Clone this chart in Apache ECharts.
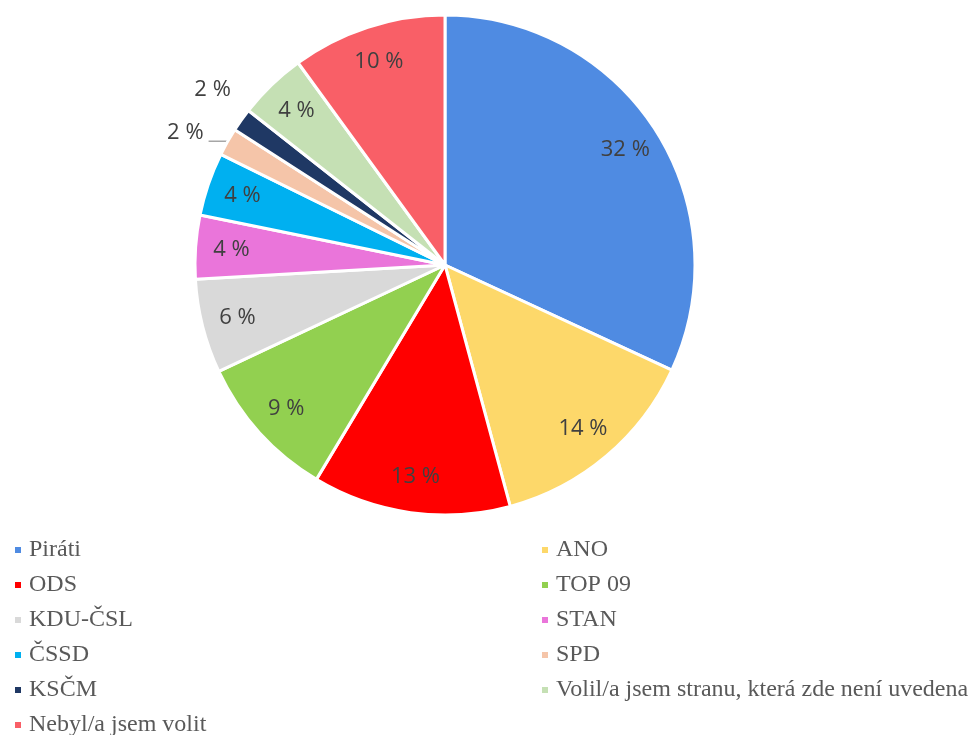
<!DOCTYPE html>
<html><head><meta charset="utf-8">
<script src="https://cdn.jsdelivr.net/npm/echarts@6/dist/echarts.min.js"></script>
<style>html,body{margin:0;padding:0;background:#fff}#c{width:971px;height:735px}</style>
</head><body><div id="c"></div>
<script>
const categories = ['Piráti','ANO','ODS','TOP 09','KDU-ČSL','STAN','ČSSD','SPD','KSČM','Volil/a jsem stranu, která zde není uvedena','Nebyl/a jsem volit'];
const values = [31.9, 13.9, 12.8, 9.4, 6.1, 4.1, 4.1, 1.8, 1.5, 4.4, 10.0];
const colors = ['#4F8BE2','#FDD86A','#FF0000','#92D050','#D9D9D9','#EA75DA','#00B0F0','#F5C5A9','#1F3864','#C5E0B4','#F95F67'];
const leftLegend = ['Piráti','ODS','KDU-ČSL','ČSSD','KSČM','Nebyl/a jsem volit'];
const rightLegend = ['ANO','TOP 09','STAN','SPD','Volil/a jsem stranu, která zde není uvedena'];
const outsideLabels = ['SPD','KSČM'];

const chart = echarts.init(document.getElementById('c'));
const mainData = categories.map((n,i)=>({name:n, value:values[i], itemStyle:{color:colors[i]}}));
const labelData = categories.map((n,i)=>{
  const d = {name:n, value:values[i]};
  if (outsideLabels.includes(n)) {
    d.label = {position:'outside'};
    d.labelLine = n==='SPD' ? {show:true, length:1, length2:18, lineStyle:{color:'#A6A6A6', width:1.5}} : {show:false, length:24, length2:10};
  }
  return d;
});
const legendCommon = {
  orient:'vertical', icon:'rect', itemWidth:8, itemHeight:8, itemGap:11, height:300,
  textStyle:{fontFamily:'Liberation Serif', fontSize:24, color:'#595959', lineHeight:22, padding:[0,0,0,2]},
  selectedMode:false
};
chart.setOption({
  animation:false,
  legend:[
    Object.assign({}, legendCommon, {left:8, top:533, data:leftLegend}),
    Object.assign({}, legendCommon, {left:535, top:533, data:rightLegend})
  ],
  series:[
    {type:'pie', center:[445,265], radius:[0,250], startAngle:90, clockwise:true,
     itemStyle:{borderColor:'#fff', borderWidth:3},
     label:{show:false}, labelLine:{show:false}, data:mainData, silent:true},
    {type:'pie', center:[445,265], radius:[172,250], startAngle:90, clockwise:true,
     itemStyle:{color:'rgba(0,0,0,0)', borderWidth:0}, silent:true,
     label:{show:true, position:'inside', fontFamily:'Open Sans', fontSize:22, color:'#404040',
            formatter:p=>Math.round(p.value)+' %'},
     labelLayout:function(p){
       const n = categories[p.dataIndex];
       if (n==='KSČM') return {dx:24, dy:-16};
       if (n==='SPD') return {dx:0, dy:-9};
     },
     labelLine:{show:false}, data:labelData}
  ]
});
</script></body></html>
